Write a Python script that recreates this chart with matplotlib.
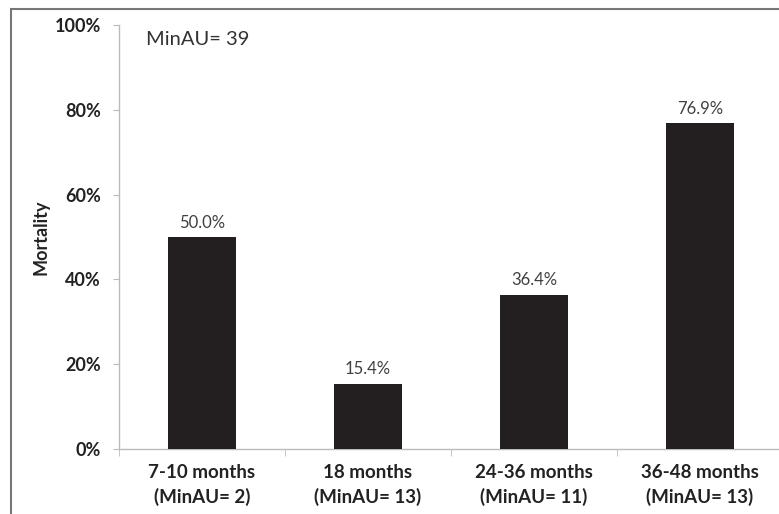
import matplotlib
matplotlib.use("Agg")
import matplotlib.pyplot as plt
from matplotlib.patches import Rectangle

categories = ["7-10 months\n(MinAU= 2)", "18 months\n(MinAU= 13)",
              "24-36 months\n(MinAU= 11)", "36-48 months\n(MinAU= 13)"]
mortality = [50.0, 15.4, 36.4, 76.9]
yticks = [0, 20, 40, 60, 80, 100]
ytick_labels = ["0%", "20%", "40%", "60%", "80%", "100%"]

plt.rcParams['font.family'] = ['Lato', 'DejaVu Sans']

fig = plt.figure(figsize=(7.79, 5.14), dpi=100)
W, H = 779, 514
ax = fig.add_axes([119 / W, 1 - 449 / H, (783 - 119) / W, (449 - 25) / H])

x = list(range(len(categories)))
ax.bar(x, mortality, width=0.41, color="#231f20", zorder=3)
for xi, v in zip(x, mortality):
    ax.text(xi, v + 1.5, f"{v:.1f}%", ha="center", va="bottom",
            fontsize=12, color="#404040")

ax.set_xlim(-0.5, len(categories) - 0.5)
ax.set_ylim(0, 100)
ax.set_yticks(yticks)
ax.set_yticklabels(ytick_labels, fontsize=13, fontweight="bold", color="#222222")
ax.set_xticks(x)
ax.set_xticklabels(categories, fontsize=13.5, fontweight="bold", color="#222222",
                   linespacing=1.45)
ax.tick_params(axis="x", length=0, pad=11)
ax.tick_params(axis="y", length=4, color="#bbbbbb", pad=9)
# minor x ticks between categories
ax.set_xticks([i + 0.5 for i in range(-1, len(categories))], minor=True)
ax.tick_params(axis="x", which="minor", length=5, color="#bbbbbb", direction="out")

for s in ["top", "right"]:
    ax.spines[s].set_visible(False)
for s in ["left", "bottom"]:
    ax.spines[s].set_color("#bbbbbb")
    ax.spines[s].set_linewidth(1.0)

ax.set_ylabel("Mortality", fontsize=13, fontweight="bold", color="#222222", labelpad=4)
ax.text(0.04, 0.965, "MinAU= 39", transform=ax.transAxes, fontsize=14.5,
        color="#333333", ha="left", va="center")

# outer frame (cropped on right and bottom)
fig.patches.append(Rectangle((11 / W, -0.05), 1.2, 1 - 9 / H + 0.05,
                             transform=fig.transFigure, fill=False,
                             edgecolor="#777777", linewidth=1.5))

fig.savefig("out.png", dpi=100)
